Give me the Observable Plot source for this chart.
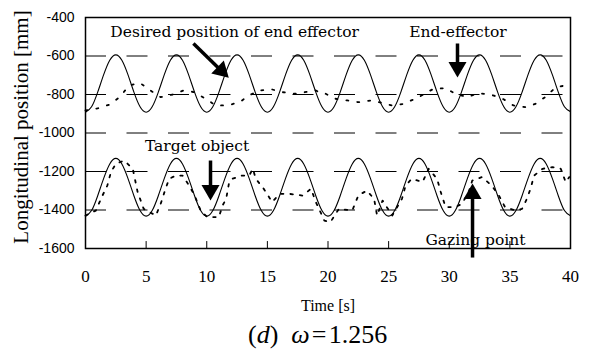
<!DOCTYPE html>
<html>
<head>
<meta charset="utf-8">
<script src="https://cdn.jsdelivr.net/npm/d3@7"></script>
<script src="https://cdn.jsdelivr.net/npm/@observablehq/plot@0.6"></script>
<style>
  html, body { margin: 0; padding: 0; background: #fff; }
  #wrap { position: relative; width: 594px; height: 349px; overflow: hidden; background: #fff; }
  #caption { position: absolute; left: 248px; top: 318px; line-height: 34px;
             font-family: "Liberation Serif", serif; font-size: 26px; color: #000; white-space: nowrap; }
</style>
</head>
<body>
<div id="wrap">
  <div id="chart"></div>
  <div id="caption">(<i>d</i>)&nbsp;&nbsp;<i>ω</i>&#8202;=&#8202;1.256</div>
</div>
<script>
// ---- data ----
const tDesired = [0,0.5,1,1.5,2,2.5,3,3.5,4,4.5,5,5.5,6,6.5,7,7.5,8,8.5,9,9.5,10,10.5,11,11.5,12,12.5,13,13.5,14,14.5,15,15.5,16,16.5,17,17.5,18,18.5,19,19.5,20,20.5,21,21.5,22,22.5,23,23.5,24,24.5,25,25.5,26,26.5,27,27.5,28,28.5,29,29.5,30,30.5,31,31.5,32,32.5,33,33.5,34,34.5,35,35.5,36,36.5,37,37.5,38,38.5,39,39.5,40];
const desiredEndEffector = [-892,-864,-789,-697,-622,-594,-622,-697,-789,-864,
  -892,-864,-789,-697,-622,-594,-622,-697,-789,-864,
  -892,-864,-789,-697,-622,-594,-622,-697,-789,-864,
  -892,-864,-789,-697,-622,-594,-622,-697,-789,-864,
  -892,-864,-789,-697,-622,-594,-622,-697,-789,-864,
  -892,-864,-789,-697,-622,-594,-622,-697,-789,-864,
  -892,-864,-789,-697,-622,-594,-622,-697,-789,-864,
  -892,-864,-789,-697,-622,-594,-622,-697,-789,-864,
  -889];
const targetObject = [-1432,-1403,-1327,-1236,-1161,-1132,-1161,-1236,-1327,-1403,
  -1432,-1403,-1327,-1236,-1161,-1132,-1161,-1236,-1327,-1403,
  -1432,-1403,-1327,-1236,-1161,-1132,-1161,-1236,-1327,-1403,
  -1432,-1403,-1327,-1236,-1161,-1132,-1161,-1236,-1327,-1403,
  -1432,-1403,-1327,-1236,-1161,-1132,-1161,-1236,-1327,-1403,
  -1432,-1403,-1327,-1236,-1161,-1132,-1161,-1236,-1327,-1403,
  -1432,-1403,-1327,-1236,-1161,-1132,-1161,-1236,-1327,-1403,
  -1432,-1403,-1327,-1236,-1161,-1132,-1161,-1236,-1327,-1403,
  -1430];

const tEndEffector = [0,1.0,1.95,2.8,3.6,4.5,5.25,6.2,7.2,8.1,9.0,9.9,10.75,11.7,12.7,13.5,14.3,15.4,16.25,17.3,19.0,19.5,19.8,20.6,21.6,22.5,23.6,25.3,26.2,27.2,28.0,28.7,29.7,30.5,31.5,32.4,33.5,34.4,35.3,36.3,37.1,37.9,38.8,39.6,40];
const endEffector = [-883,-872,-853,-815,-753,-740,-775,-814,-800,-779,-788,-822,-857,-857,-840,-805,-779,-774,-788,-796,-779,-796,-796,-822,-831,-840,-831,-857,-849,-822,-796,-770,-767,-796,-814,-793,-802,-822,-857,-866,-849,-814,-762,-753,-760];

const tGazing = [0,0.85,1.4,1.8,2.1,2.5,3.2,3.9,4.3,4.8,5.8,6.2,6.6,6.9,7.45,8.0,8.55,9.0,9.5,10.05,11.0,11.3,11.6,11.85,12.1,12.9,13.5,13.8,14.05,14.7,15.4,16.0,16.8,17.9,18.6,19.0,19.7,20.2,20.9,22.0,22.5,23.2,23.8,24.05,24.5,25.3,26.1,26.4,26.9,27.8,28.3,29.0,29.3,29.7,30.5,31.05,31.6,31.9,32.7,33.5,34.1,34.6,35.5,36.0,36.4,36.7,37.0,37.7,38.5,39.2,39.6,39.9];
const gazingPoint = [-1429,-1403,-1325,-1273,-1203,-1160,-1143,-1186,-1307,-1394,-1429,-1368,-1290,-1238,-1221,-1221,-1273,-1325,-1403,-1437,-1437,-1377,-1342,-1255,-1238,-1221,-1221,-1186,-1238,-1290,-1359,-1316,-1316,-1325,-1290,-1359,-1455,-1463,-1394,-1403,-1325,-1299,-1342,-1429,-1351,-1429,-1342,-1273,-1238,-1255,-1186,-1238,-1307,-1385,-1385,-1368,-1307,-1247,-1229,-1273,-1325,-1385,-1403,-1394,-1342,-1290,-1221,-1186,-1177,-1186,-1255,-1229];

const xTickLabels = [0,5,10,15,20,25,30,35,40];
const xTickMarks = [5,10,15,20,25,30,35];
const yTickLabels = [-1600,-1400,-1200,-1000,-800,-600,-400];
const gridValues = [-1400,-1200,-1000,-800,-600];

const labelNames = ["Desired position of end effector","End-effector","Target object","Gazing point"];
const labelT = [12.3, 30.72, 9.2, 32.16];
const labelV = [-473, -478, -1070, -1557];

const arrowTailT = [8.9, 30.68, 10.31, 31.92];
const arrowTailV = [-535, -535, -1143, -1647];
const arrowHeadT = [11.2, 30.68, 10.31, 31.92];
const arrowHeadV = [-676, -658, -1297, -1316];
const arrowAngle = [134, 180, 180, 0];

// ---- build tables ----
const desiredRows = tDesired.map((t, i) => ({t, upper: desiredEndEffector[i], lower: targetObject[i]}));
const endRows = tEndEffector.map((t, i) => ({t, v: endEffector[i]}));
const gazeRows = tGazing.map((t, i) => ({t, v: gazingPoint[i]}));
const labels = labelNames.map((text, i) => ({text, t: labelT[i], v: labelV[i]}));
const arrows = arrowTailT.map((_, i) => ({x1: arrowTailT[i], y1: arrowTailV[i], x2: arrowHeadT[i], y2: arrowHeadV[i], a: arrowAngle[i]}));
const yMin = -1600, tickLen = 36;

const serif = "'Liberation Serif', 'Times New Roman', serif";
const annFont = "'DejaVu Serif', serif";

const chart = Plot.plot({
  width: 594, height: 312,
  marginLeft: 85, marginRight: 24, marginTop: 17, marginBottom: 64,
  x: {domain: [0, 40]},
  y: {domain: [-1600, -400]},
  style: {background: "white", color: "black", overflow: "visible"},
  marks: [
    Plot.ruleY(gridValues, {y: d => d, stroke: "black", strokeWidth: 1, strokeDasharray: "21,20.5"}),
    Plot.line(desiredRows, {x: "t", y: "upper", curve: "natural", stroke: "black", strokeWidth: 1.1}),
    Plot.line(desiredRows, {x: "t", y: "lower", curve: "natural", stroke: "black", strokeWidth: 1.1}),
    Plot.line(endRows, {x: "t", y: "v", stroke: "black", strokeWidth: 1.8, strokeDasharray: "2,9"}),
    Plot.line(gazeRows, {x: "t", y: "v", stroke: "black", strokeWidth: 1.8, strokeDasharray: "2.5,7"}),
    Plot.frame({stroke: "black", strokeWidth: 1.5}),
    Plot.ruleX(xTickMarks, {x: d => d, y1: yMin, y2: yMin + tickLen, stroke: "black", strokeWidth: 1}),
    Plot.axisY({ticks: yTickLabels, tickSize: 0, tickPadding: 11, tickFormat: d => String(d), label: null,
                fontFamily: "'Liberation Sans', Arial, sans-serif", fontSize: 14}),
    Plot.axisX({ticks: xTickLabels, tickSize: 0, tickPadding: 21, tickFormat: d => String(d), label: null,
                fontFamily: serif, fontSize: 17}),
    Plot.text(["Time [s]"], {frameAnchor: "bottom", dy: 62, text: d => d, fontFamily: serif, fontSize: 16, fill: "black"}),
    Plot.text(["Longitudinal position [mm]"], {frameAnchor: "left", dx: -64, dy: -6, rotate: -90, textAnchor: "middle",
                text: d => d, fontFamily: serif, fontSize: 21, fill: "black"}),
    Plot.link(arrows, {x1: "x1", y1: "y1", x2: "x2", y2: "y2", stroke: "black", strokeWidth: 3.5}),
    Plot.dot(arrows, {x: "x2", y: "y2", symbol: "triangle", r: 6.7, fill: "black", stroke: "none", rotate: "a"}),
    Plot.text(labels, {x: "t", y: "v", text: "text", fontFamily: annFont, fontSize: 15.5, fill: "black"})
  ]
});
document.getElementById("chart").appendChild(chart);
</script>
</body>
</html>
